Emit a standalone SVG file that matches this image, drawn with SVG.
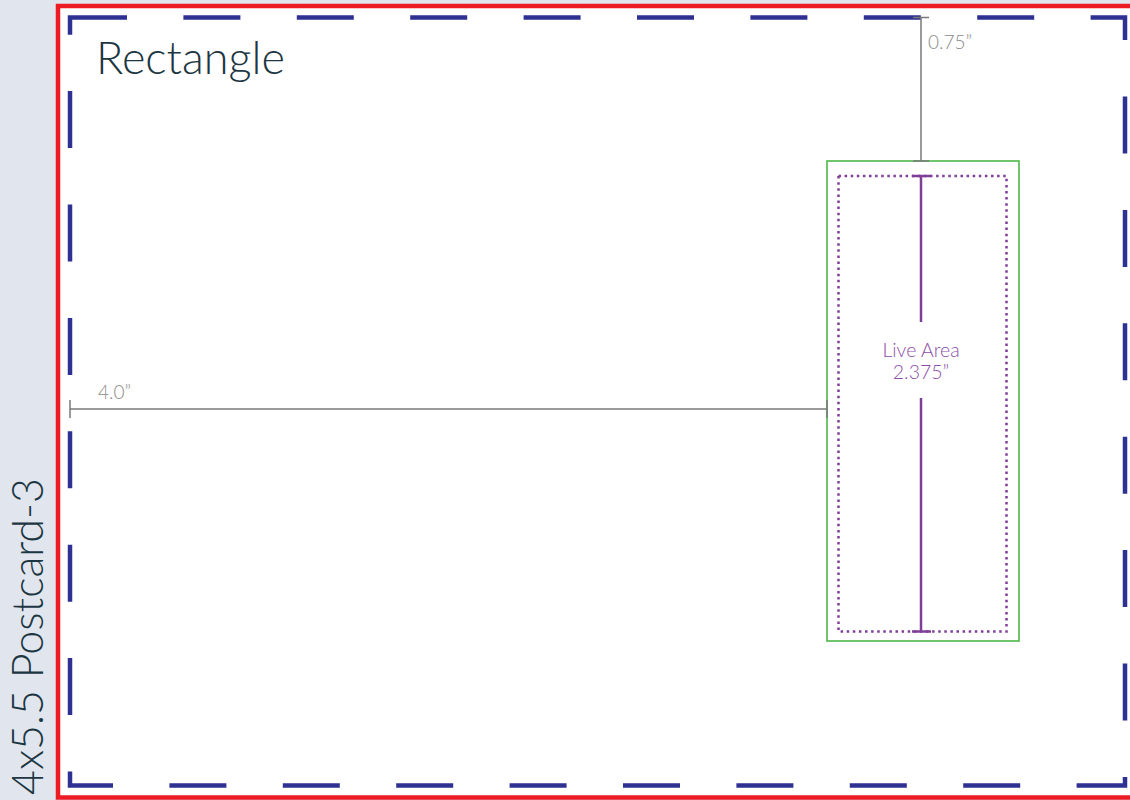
<svg xmlns="http://www.w3.org/2000/svg" width="1130" height="800" viewBox="0 0 1130 800">
<style>
.title{font-family:Lato,"Open Sans","Liberation Sans",sans-serif;font-weight:300;fill:#1c3642}
.dim{font-family:Lato,"Open Sans","Liberation Sans",sans-serif;font-weight:300;fill:#8c8c8c;font-size:19px}
.live{font-family:Lato,"Open Sans","Liberation Sans",sans-serif;font-weight:300;fill:#8e4fa8;font-size:19.5px;text-anchor:middle}
.gline{stroke:#7a7a7a;stroke-width:1.5;fill:none}
.pline{stroke:#7f3f98;stroke-width:2.5;fill:none}
</style>
<rect x="0" y="0" width="1130" height="800" fill="#e1e5ee"/>
<g id="page">
<rect x="58" y="6" width="1100" height="791.5" fill="#ffffff" stroke="#ed1c24" stroke-width="4.5"/>
</g>
<g id="trim">
<path d="M70,17.5 H1125 V785.5 H70 Z" fill="none" stroke="#2e3192" stroke-width="4.5" stroke-dasharray="57 56.4"/>
</g>
<g id="title">
<text class="title" x="96" y="74" font-size="45">Rectangle</text>
</g>
<g id="side-label">
<text class="title" font-size="43" transform="translate(43,795) rotate(-90)">4x5.5 Postcard-3</text>
</g>
<g id="rectangle-box">
<rect x="827" y="161" width="192" height="480" fill="none" stroke="#4cb848" stroke-width="1.6"/>
</g>
<g id="live-area">
<rect x="838.5" y="176" width="168" height="455.5" fill="none" stroke="#7f3f98" stroke-width="2.5" stroke-dasharray="2.5 3.6"/>
<text class="live" x="921" y="357">Live Area</text>
<text class="live" x="921" y="379">2.375”</text>
</g>
<g id="connectors">
<path class="gline" d="M921,17.5 V161 M913,17.5 H929 M913,161 H929"/>
<path class="gline" d="M70,409 H827 M70,400 V418 M827,400 V418"/>
<path class="pline" d="M921,176 V322 M921,398 V631.5 M912,176 H931 M912,631.5 H931"/>
</g>
<g id="dim-labels">
<text class="dim" x="928" y="49">0.75”</text>
<text class="dim" x="98" y="399" font-size="18">4.0”</text>
</g>
</svg>
